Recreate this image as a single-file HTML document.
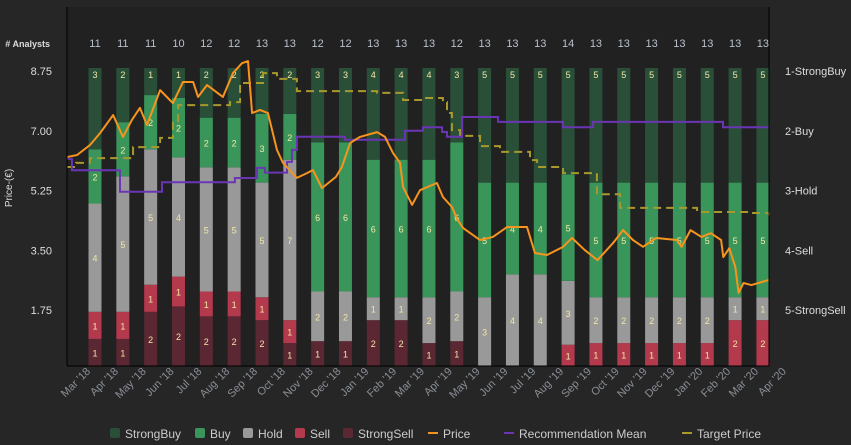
<!DOCTYPE html>
<html><head><meta charset="utf-8">
<style>
html,body{margin:0;padding:0;background:#262626;}
svg{display:block;font-family:"Liberation Sans",sans-serif;}
</style></head>
<body>
<svg id="chart" width="851" height="445">
  <rect x="0" y="0" width="851" height="445" fill="#262626"/>
  <rect x="67" y="7" width="702" height="359" fill="#212121"/>
  <g id="bars"></g>
  <g id="lines"></g>
  <g id="axes"></g>
  <line x1="67" y1="7" x2="67" y2="366" stroke="#000"/>
  <line x1="67" y1="366" x2="769" y2="366" stroke="#000"/>
  <line x1="769" y1="7" x2="769" y2="366" stroke="#000"/>
  <text x="50" y="47" text-anchor="end" font-size="9" font-weight="bold" fill="#ddd"># Analysts</text>
  <text transform="translate(12,188) rotate(-90)" text-anchor="middle" font-size="10" fill="#ddd">Price-(€)</text>
  <g id="legend"></g>
</svg>
<script>
const months = ["Mar '18","Apr '18","May '18","Jun '18","Jul '18","Aug '18","Sep '18","Oct '18","Nov '18","Dec '18","Jan '19","Feb '19","Mar '19","Apr '19","May '19","Jun '19","Jul '19","Aug '19","Sep '19","Oct '19","Nov '19","Dec '19","Jan '20","Feb '20","Mar '20","Apr '20"];
const strongSell = [1,1,2,2,2,2,2,1,1,1,2,2,1,1,0,0,0,0,0,0,0,0,0,0,0];
const sell       = [1,1,1,1,1,1,1,1,0,0,0,0,0,0,0,0,0,1,1,1,1,1,1,2,2];
const hold       = [4,5,5,4,5,5,5,7,2,2,1,1,2,2,3,4,4,3,2,2,2,2,2,1,1];
const buy        = [2,2,2,2,2,2,3,2,6,6,6,6,6,6,5,4,4,5,5,5,5,5,5,5,5];
const strongBuy  = [3,2,1,1,2,2,2,2,3,3,4,4,4,3,5,5,5,5,5,5,5,5,5,5,5];
const priceTicks = [1.75,3.50,5.25,7.00,8.75];
const recTicks = ["1-StrongBuy","2-Buy","3-Hold","4-Sell","5-StrongSell"];
// time in months since start of Mar '18
const priceT = [0,0.37,0.84,1.21,1.69,2.05,2.38,2.67,2.93,3.41,3.88,4.25,4.62,4.8,5.13,5.71,6.08,6.41,6.63,6.78,7.07,7.36,7.69,7.91,8.42,8.79,9.01,9.34,9.85,10.07,10.37,10.73,11.36,11.65,11.94,12.2,12.31,12.64,12.93,13.55,13.77,14.1,14.3,14.51,15.13,15.6,16.12,16.85,17.14,17.58,18.17,18.5,18.96,19.43,20.0,20.37,20.73,21.1,21.58,22.34,22.51,22.84,23.24,23.58,23.96,24.04,24.26,24.48,24.6,24.78,25.07,25.71];
const priceV = [6.23,6.29,6.58,6.93,7.46,6.82,7.32,7.67,7.17,8.19,7.81,8.43,8.43,7.99,8.34,7.99,8.69,8.98,9.04,7.52,7.61,7.52,6.44,6.06,5.62,5.76,5.85,5.32,5.65,5.94,6.64,6.82,6.96,6.82,6.35,6.06,5.35,4.83,5.26,5.47,5.06,4.77,4.40,4.15,3.80,3.89,4.18,4.18,3.42,3.36,3.60,3.86,3.51,3.21,3.71,4.09,3.80,3.60,3.86,3.80,3.60,4.09,3.89,4.00,3.80,3.30,3.56,3.01,2.25,2.54,2.48,2.63];
const recT = [0,0.18,1.94,3.48,6.15,6.96,7.25,8.06,8.24,8.42,10.18,12.38,13.04,13.74,13.92,14.47,15.79,18.17,19.27,24.03,25.71];
const recV = [2.47,2.66,3.02,2.86,2.79,2.62,2.70,2.52,2.32,2.10,2.15,2.0,1.94,2.02,2.10,1.77,1.85,1.94,1.85,1.94,1.94];
const tgtT = [0,0.33,0.84,2.42,3.41,3.88,4.07,5.97,6.34,7.07,7.18,7.69,8.42,11.36,12.31,13.04,13.77,13.92,14.1,14.4,15.13,15.86,16.96,17.22,18.17,19.27,19.41,20.26,23.08,25.13,25.71];
const tgtV = [5.94,6.06,6.20,6.52,6.79,7.23,7.75,7.84,8.40,8.40,8.69,8.52,8.16,8.11,7.90,7.96,7.84,7.52,7.02,6.85,6.55,6.38,6.14,5.94,5.76,5.76,5.14,4.74,4.62,4.59,4.53];

const NS="http://www.w3.org/2000/svg";
function mk(tag, attrs, parent){const e=document.createElementNS(NS,tag);for(const k in attrs)e.setAttribute(k,attrs[k]);parent.appendChild(e);return e;}
const X0=67, X1=769, PX=27.3;
const xT = t => X0 + t*PX;
const barX = j => 95 + j*27.83;
const yP = p => 310 - (p-1.75)*34.14;
const yR = r => 71 + (r-1)*59.8;
const BT=68, BB=366;

const bars=document.getElementById('bars');
const series=[{d:strongSell,c:"#5a2733",n:"strongsell"},{d:sell,c:"#b3394d",n:"sell"},{d:hold,c:"#999999",n:"hold"},{d:buy,c:"#3a955a",n:"buy"},{d:strongBuy,c:"#2a4f38",n:"strongbuy"}];
const axes=document.getElementById('axes');
for(let j=0;j<strongBuy.length;j++){
  const total=series.reduce((s,q)=>s+q.d[j],0);
  let y=BB;
  const cx=barX(j);
  series.forEach((s,k)=>{
    const v=s.d[j]; if(!v) return;
    const h=v/total*(BB-BT);
    const r=mk('rect',{x:cx-6.5,y:y-h,width:13,height:h,fill:s.c},bars);
    
    
    const ly = k===4 ? y-h+10 : y-h/2+4;
    const t=mk('text',{x:cx,y:ly,'text-anchor':'middle','font-size':'9',fill:'#f2e7a6'},bars);
    t.textContent=v;
    
    
    y-=h;
  });
  const ct=mk('text',{x:cx,y:47,'text-anchor':'middle','font-size':'11',fill:'#b8c0cc'},axes);
  ct.textContent=total;
  
  
}
months.forEach((m,i)=>{
  const x=barX(i)-4, y=372;
  const t=mk('text',{x:x,y:y,'text-anchor':'end','font-size':'11',fill:'#8a8f96',transform:`rotate(-45 ${x} ${y})`},axes);
  t.textContent=m;
  
  
});
priceTicks.forEach(p=>{
  const t=mk('text',{x:52,y:yP(p)+4,'text-anchor':'end','font-size':'11',fill:'#ddd'},axes);
  t.textContent=p.toFixed(2);
  
  
});
recTicks.forEach((r,i)=>{
  const t=mk('text',{x:785,y:yR(i+1)+4,'font-size':'11',fill:'#ddd'},axes);
  t.textContent=r;
  
  
});
const lines=document.getElementById('lines');
function stepPath(T,V,f){let d='';T.forEach((t,i)=>{const x=xT(t),y=f(V[i]);if(i===0)d='M'+x+','+y;else d+=' H'+x+' V'+y;});return d+' H'+X1;}
const tp=mk('path',{d:stepPath(tgtT,tgtV,yP),fill:'none',stroke:'#a8992c','stroke-width':2,'stroke-dasharray':'8,5'},lines);


const rp=mk('path',{d:stepPath(recT,recV,yR),fill:'none',stroke:'#6a35b5','stroke-width':2},lines);


const pp=mk('path',{d:priceT.map((t,i)=>(i?'L':'M')+xT(t)+','+yP(priceV[i])).join(' '),fill:'none',stroke:'#f7941d','stroke-width':2,'stroke-linejoin':'round'},lines);



const lg=document.getElementById('legend');
const items=[{x:110,t:'StrongBuy',c:'#2a4f38',sq:1},{x:195,t:'Buy',c:'#3a955a',sq:1},{x:243,t:'Hold',c:'#999999',sq:1},{x:295,t:'Sell',c:'#b3394d',sq:1},{x:343,t:'StrongSell',c:'#5a2733',sq:1},{x:428,t:'Price',c:'#f7941d'},{x:504,t:'Recommendation Mean',c:'#6a35b5'},{x:682,t:'Target Price',c:'#a8992c'}];
items.forEach(it=>{
  const g=mk('g',{},lg);
  
  
  if(it.sq) mk('rect',{x:it.x,y:428,width:10,height:10,rx:2,fill:it.c},g);
  else mk('rect',{x:it.x,y:432,width:10,height:2,fill:it.c},g);
  const t=mk('text',{x:it.x+15,y:438,'font-size':'12',fill:'#ccc'},g);
  t.textContent=it.t;
});
</script>
</body></html>
